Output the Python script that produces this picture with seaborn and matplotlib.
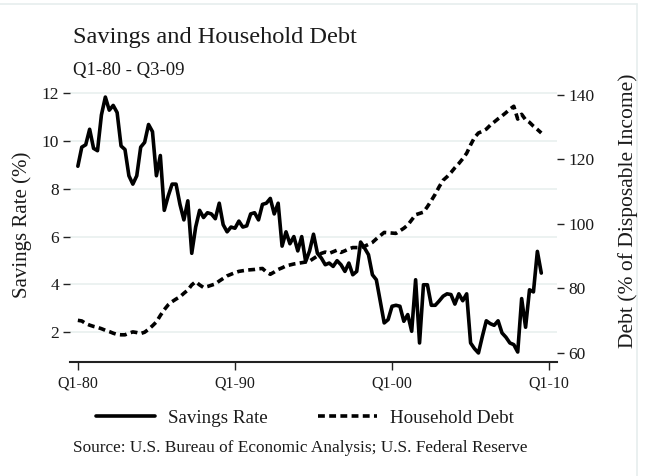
import matplotlib
matplotlib.use("Agg")
import matplotlib.pyplot as plt
from matplotlib.lines import Line2D
import seaborn as sns
import pandas as pd
import numpy as np

# quarter index 0 = Q1-80 ... 118 = Q3-09
savings_rate = [
    8.95, 9.75, 9.85, 10.5, 9.7, 9.6, 11.1, 11.85, 11.3, 11.5,
    11.2, 9.8, 9.65, 8.55, 8.2, 8.55, 9.75, 9.95, 10.7, 10.4,
    8.55, 9.4, 7.1, 7.7, 8.2, 8.2, 7.35, 6.7, 7.5, 5.3,
    6.4, 7.1, 6.8, 7.0, 6.95, 6.75, 7.4, 6.5, 6.2, 6.4,
    6.35, 6.65, 6.4, 6.45, 6.95, 7.0, 6.7, 7.35, 7.4, 7.6,
    6.95, 7.4, 5.6, 6.2, 5.7, 6.0, 5.4, 6.0, 4.95, 5.4,
    6.1, 5.3, 5.1, 4.82, 4.89, 4.75, 4.99, 4.82, 4.54, 4.89,
    4.4, 4.54, 5.77, 5.52, 5.24, 4.4, 4.19, 3.29, 2.38, 2.52,
    3.08, 3.12, 3.08, 2.45, 2.73, 2.03, 4.19, 1.54, 3.98, 3.98,
    3.12, 3.12, 3.3, 3.5, 3.6, 3.57, 3.17, 3.6, 3.31, 3.6,
    1.54, 1.3, 1.12, 1.82, 2.47, 2.35, 2.28, 2.47, 1.96, 1.78,
    1.54, 1.47, 1.16, 3.4, 2.2, 3.77, 3.68, 5.38, 4.47,
]
household_debt = [
    70.0, 69.8, 69.0, 68.5, 68.1, 67.8, 67.4, 66.9, 66.5, 66.0,
    65.6, 65.5, 65.5, 66.0, 66.4, 66.2, 65.9, 66.3, 67.2, 68.3,
    69.5, 71.5, 73.3, 74.8, 75.8, 76.6, 77.3, 78.4, 79.4, 81.0,
    82.0, 81.0, 80.2, 80.5, 80.9, 81.3, 82.2, 83.0, 83.8, 84.3,
    84.8, 85.2, 85.4, 85.6, 85.7, 85.8, 86.0, 86.1, 85.0, 84.3,
    85.0, 85.8, 86.3, 86.9, 87.2, 87.5, 87.7, 87.9, 88.1, 88.4,
    89.2, 90.0, 90.8, 91.2, 90.8, 91.3, 91.8, 91.1, 91.6, 92.2,
    92.6, 92.6, 92.6, 93.0, 93.6, 94.2, 95.3, 96.3, 97.3, 97.2,
    97.1, 97.0, 97.8, 98.6, 99.6, 101.2, 102.8, 103.2, 103.6, 105.3,
    107.2, 109.2, 111.5, 113.5, 114.6, 115.9, 117.4, 118.7, 120.2, 121.9,
    124.5, 126.8, 128.2, 128.7, 129.4, 130.6, 131.6, 132.6, 133.5, 134.5,
    135.6, 136.5, 132.5, 134.0, 132.3, 131.5, 130.3, 129.3, 128.2,
]
x_ticks = [0, 40, 80, 120]
x_tick_labels = ["Q1-80", "Q1-90", "Q1-00", "Q1-10"]
left_ticks = [2, 4, 6, 8, 10, 12]
right_ticks = [60, 80, 100, 120, 140]

df = pd.DataFrame({
    "quarter": np.arange(len(savings_rate)),
    "savings": savings_rate,
    "debt": household_debt,
})

sns.set_style("white")
plt.rcParams["font.family"] = ["Liberation Serif", "DejaVu Serif"]
TXT = "#1a1a1a"

fig = plt.figure(figsize=(6.46, 4.76), dpi=100)
ax = fig.add_axes([70/646, 1-362/476, (557-70)/646, (362-88)/476])
ax2 = ax.twinx()

sns.lineplot(data=df, x="quarter", y="savings", ax=ax, color="black",
             linewidth=2.6, label="Savings Rate", legend=False)
sns.lineplot(data=df, x="quarter", y="debt", ax=ax2, color="black",
             linewidth=2.6, label="Household Debt", legend=False)
ax2.lines[0].set_dashes((1.9, 1.2))

ax.set_xlim(-2, 122)
ax.set_ylim(0.742, 12.23)
ax2.set_ylim(57.05, 142.17)

ax.set_xticks(x_ticks)
ax.set_xticklabels(x_tick_labels)
ax.set_yticks(left_ticks)
ax.set_yticklabels([str(v) for v in left_ticks])
ax2.set_yticks(right_ticks)
ax2.set_yticklabels([str(v) for v in right_ticks])

ax.grid(axis="y", color="#eaf1f0", linewidth=1.3)
ax.grid(axis="x", visible=False)
ax2.grid(False)
for a in (ax, ax2):
    for s in ("top", "left", "right"):
        a.spines[s].set_visible(False)
ax.spines["bottom"].set_color("#222222")
ax.spines["bottom"].set_linewidth(1.5)
ax2.spines["bottom"].set_visible(False)

ax.tick_params(axis="x", direction="out", length=6, width=1, color="#222222",
               labelsize=11.5, labelcolor=TXT, pad=4, bottom=True)
ax.tick_params(axis="y", direction="out", length=5, width=1, color="#222222",
               labelsize=12.5, labelcolor=TXT, pad=3, left=True)
ax2.tick_params(axis="y", direction="out", length=5, width=1, color="#222222",
                labelsize=12.5, labelcolor=TXT, pad=3, right=True)
ax.set_xlabel("")
ax.set_ylabel("")
ax2.set_ylabel("")

fig.text(22/646, 1-225/476, "Savings Rate (%)", rotation=90, ha="center",
         va="center", fontsize=15, color=TXT)
fig.text(628/646, 1-211/476, "Debt (% of Disposable Income)", rotation=90,
         ha="center", va="center", fontsize=15.5, color=TXT)

fig.text(73/646, 1-37/476, "Savings and Household Debt", ha="left",
         va="center", fontsize=17.6, color=TXT)
fig.text(73/646, 1-70/476, "Q1-80 - Q3-09", ha="left", va="center",
         fontsize=13.5, color=TXT)

handles = [ax.lines[0], ax2.lines[0]]
leg = fig.legend(handles, ["Savings Rate", "Household Debt"], loc="center",
                 bbox_to_anchor=(305/646, 1-418/476), ncol=2, frameon=False,
                 fontsize=13.7, handlelength=3.1, columnspacing=2.6,
                 handletextpad=0.7)
for t in leg.get_texts():
    t.set_color(TXT)

fig.text(300/646, 1-448/476,
         "Source: U.S. Bureau of Economic Analysis; U.S. Federal Reserve",
         ha="center", va="center", fontsize=12.4, color=TXT)

fig.add_artist(Line2D([0, 637/646], [1-4/476, 1-4/476],
                      transform=fig.transFigure, color="#e6eeee", lw=1.2))
fig.add_artist(Line2D([637/646, 637/646], [0, 1-4/476],
                      transform=fig.transFigure, color="#e6eeee", lw=1.2))

fig.savefig("out.png", dpi=100)
